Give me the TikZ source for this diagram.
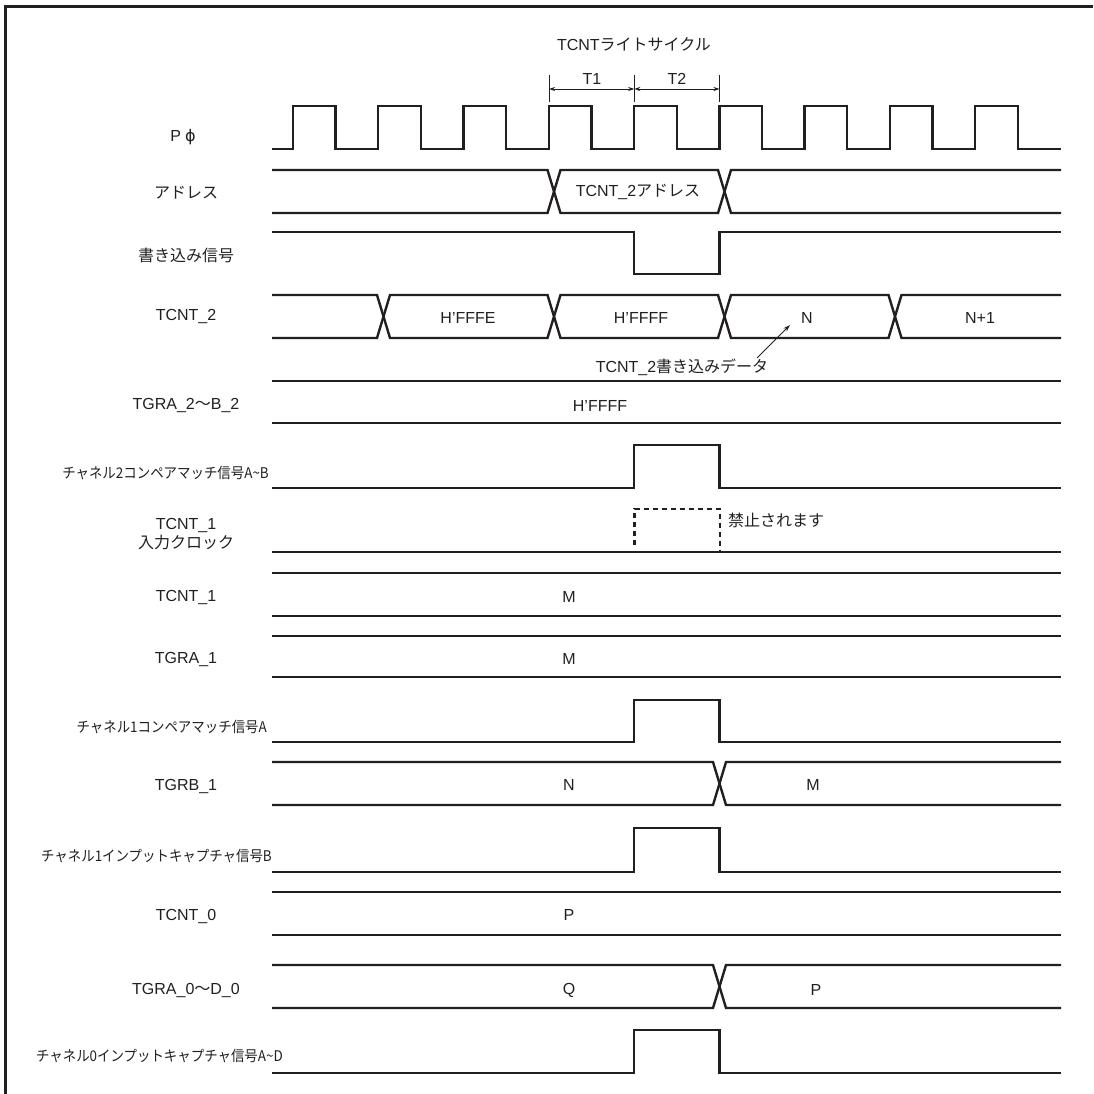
\documentclass[tikz,border=0pt]{standalone}
\usepackage{fontspec}
\usepackage{graphicx}
\setmainfont{Liberation Sans}
\newfontfamily\jp{Noto Sans CJK JP}
\newfontfamily\dv{DejaVu Sans}
\usetikzlibrary{arrows.meta}
\definecolor{ink}{HTML}{231F20}
\newcommand{\cond}[1]{\scalebox{0.84}[0.92]{\jp #1}}
\newcommand{\apos}{{\char"0027}}
\begin{document}
\begin{tikzpicture}[x=1pt,y=-1pt,
  sig/.style={draw=ink,line width=2.4pt,line join=miter},
  lab/.style={inner sep=0pt,text=ink,font=\fontsize{16}{19.5}\selectfont},
  dim/.style={draw=ink,line width=0.9pt},
  dimarrow/.style={draw=ink,line width=0.9pt,{Stealth[length=6pt,width=4pt]}-{Stealth[length=6pt,width=4pt]}}]
\useasboundingbox (0,0) rectangle (1093,1094);
% frame
\draw[draw=ink,line width=3pt] (5.5,1094) -- (5.5,6.5) -- (1093,6.5);
% title and T1/T2
\node[lab] (title) at (634,44) {TCNT{\jp ライトサイクル}};
\coordinate (ta1) at (549,75); \coordinate (tb1) at (549,102);
\coordinate (ta2) at (634.25,75); \coordinate (tb2) at (634.25,102);
\coordinate (ta3) at (719.5,75); \coordinate (tb3) at (719.5,102);
\draw[dim] (ta1) -- (tb1); \draw[dim] (ta2) -- (tb2); \draw[dim] (ta3) -- (tb3);
\coordinate (a1) at (549,89); \coordinate (a2) at (634.25,89); \coordinate (a3) at (719.5,89);
\draw[dimarrow] (a1) -- (a2);
\draw[dimarrow] (a2) -- (a3);
\node[lab] (t1) at (592,79) {T1};
\node[lab] (t2) at (677,79) {T2};
% clock
\draw[sig] (272,149) \foreach \i in {0,...,8} { -- ({293+85.28*\i},149) -- ++(0,-43) -- ++(42.6,0) -- ++(0,43) } -- (1061,149);
\node[lab] (lpphi) at (183,137) {P\hspace{4pt}{\dv ϕ}};
% address bus
\draw[sig] (272,170) -- (547.5,170) -- (560.5,213) -- (718,213) -- (731,170) -- (1061,170);
\draw[sig] (272,213) -- (547.5,213) -- (560.5,170) -- (718,170) -- (731,213) -- (1061,213);
\node[lab] (laddr) at (186,193) {\jp アドレス};
\node[lab] (vaddr) at (638,192) {TCNT\_2{\jp アドレス}};
% write signal
\draw[sig] (272,232) -- (634.25,232) -- (634.25,274) -- (719.5,274) -- (719.5,232) -- (1061,232);
\node[lab] (lwr) at (186,255) {\jp 書き込み信号};
% TCNT_2
\draw[sig] (272,295) -- (377,295) -- (390,338) -- (547.5,338) -- (560.5,295) -- (718,295) -- (731,338) -- (888.5,338) -- (901.5,295) -- (1061,295);
\draw[sig] (272,338) -- (377,338) -- (390,295) -- (547.5,295) -- (560.5,338) -- (718,338) -- (731,295) -- (888.5,295) -- (901.5,338) -- (1061,338);
\node[lab] (ltc2) at (186,317) {TCNT\_2};
\node[lab] (v1) at (468,318) {H\apos FFFE};
\node[lab] (v2) at (641,318) {H\apos FFFF};
\node[lab] (v3) at (807,318) {N};
\node[lab] (v4) at (980,318) {N+1};
\node[lab] (wdata) at (682,367) {TCNT\_2{\jp 書き込みデータ}};
\coordinate (wtail) at (757,358); \coordinate (whead) at (790,325);
\draw[draw=ink,line width=0.9pt,-{Stealth[length=7pt,width=4.5pt]}] (wtail) -- (whead);
% TGRA_2~B_2
\draw[sig] (272,381) -- (1061,381);
\draw[sig] (272,423) -- (1061,423);
\node[lab] (ltg2) at (186,406) {TGRA\_2{\jp 〜}B\_2};
\node[lab] (vtg2) at (600,406) {H\apos FFFF};
% ch2 compare
\draw[sig] (272,488) -- (634.25,488) -- (634.25,445) -- (719.5,445) -- (719.5,488) -- (1061,488);
\node[lab,anchor=east] (lc2) at (269,473) {\cond{チャネル2コンペアマッチ信号A\string~B}};
% TCNT_1 input clock
\draw[sig] (272,552) -- (1061,552);
\draw[draw=ink,line width=2.4pt,dash pattern=on 5pt off 4pt] (634.5,545) -- (634.5,509) -- (720,509) -- (720,552);
\node[lab,align=center] (lclk) at (186,534) {TCNT\_1\\[-1pt]{\jp 入力クロック}};
\node[lab,anchor=west] (forbid) at (728,520) {\jp 禁止されます};
% TCNT_1
\draw[sig] (272,573) -- (1061,573);
\draw[sig] (272,616) -- (1061,616);
\node[lab] (ltc1) at (186,597) {TCNT\_1};
\node[lab] (vtc1) at (569,597) {M};
% TGRA_1
\draw[sig] (272,636) -- (1061,636);
\draw[sig] (272,677) -- (1061,677);
\node[lab] (ltga1) at (186,659) {TGRA\_1};
\node[lab] (vtga1) at (569,659) {M};
% ch1 compare A
\draw[sig] (272,742) -- (634.25,742) -- (634.25,700) -- (719.5,700) -- (719.5,742) -- (1061,742);
\node[lab,anchor=east] (lc1) at (267,727) {\cond{チャネル1コンペアマッチ信号A}};
% TGRB_1
\draw[sig] (272,762) -- (713,762) -- (726,805) -- (1061,805);
\draw[sig] (272,805) -- (713,805) -- (726,762) -- (1061,762);
\node[lab] (ltgb1) at (186,786) {TGRB\_1};
\node[lab] (vtgb1a) at (569,785) {N};
\node[lab] (vtgb1b) at (813,785) {M};
% ch1 input capture B
\draw[sig] (272,872) -- (634.25,872) -- (634.25,828) -- (719.5,828) -- (719.5,872) -- (1061,872);
\node[lab,anchor=east] (lic1) at (272,856) {\cond{チャネル1インプットキャプチャ信号B}};
% TCNT_0
\draw[sig] (272,892) -- (1061,892);
\draw[sig] (272,935) -- (1061,935);
\node[lab] (ltc0) at (186,916) {TCNT\_0};
\node[lab] (vtc0) at (569,915) {P};
% TGRA_0~D_0
\draw[sig] (272,965) -- (713,965) -- (726,1008) -- (1061,1008);
\draw[sig] (272,1008) -- (713,1008) -- (726,965) -- (1061,965);
\node[lab] (ltga0) at (186,990) {TGRA\_0{\jp 〜}D\_0};
\node[lab] (vtga0a) at (569,990) {Q};
\node[lab] (vtga0b) at (816,990) {P};
% ch0 input capture A~D
\draw[sig] (272,1073) -- (634.25,1073) -- (634.25,1030) -- (719.5,1030) -- (719.5,1073) -- (1061,1073);
\node[lab,anchor=east] (lic0) at (283,1056) {\cond{チャネル0インプットキャプチャ信号A\string~D}};
\end{tikzpicture}
\end{document}
